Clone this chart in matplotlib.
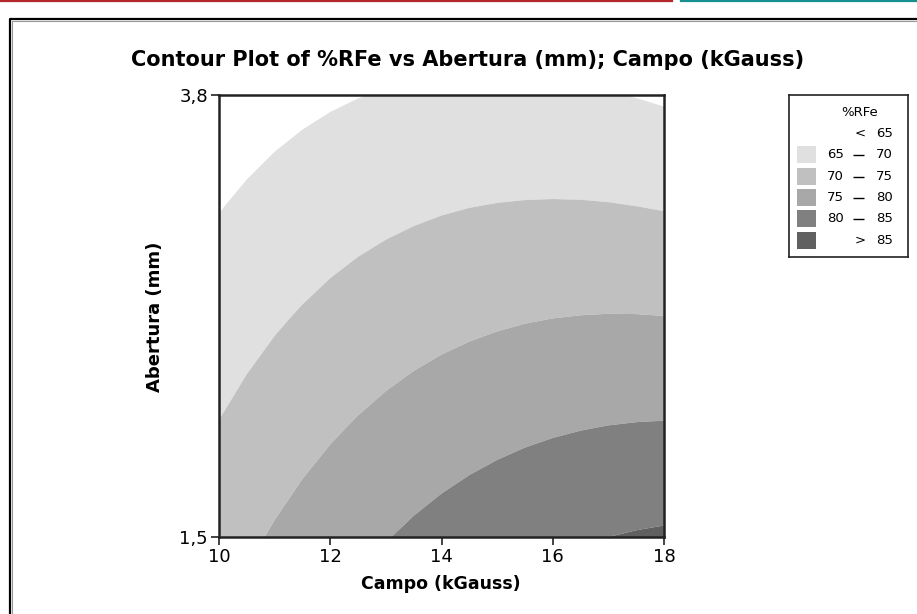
import matplotlib
matplotlib.use("Agg")
import matplotlib.pyplot as plt
from matplotlib.patches import Rectangle
from matplotlib.lines import Line2D
import numpy as np

# ---- data ----
campo = [10, 10.5, 11, 11.5, 12, 12.5, 13, 13.5, 14, 14.5, 15, 15.5, 16, 16.5, 17, 17.5, 18]  # kGauss
abertura = [1.5, 2.075, 2.65, 3.225, 3.8]  # mm
rfe_row_150 = [72.83, 74.18, 75.46, 76.66, 77.79, 78.84, 79.82, 80.73, 81.56,
               82.32, 83.00, 83.61, 84.15, 84.61, 85.00, 85.31, 85.55]
rfe_row_208 = [70.16, 71.34, 72.46, 73.50, 74.46, 75.35, 76.17, 76.92, 77.59,
               78.18, 78.70, 79.15, 79.52, 79.82, 80.05, 80.20, 80.28]
rfe_row_265 = [67.48, 68.51, 69.46, 70.33, 71.14, 71.87, 72.52, 73.10, 73.61,
               74.04, 74.40, 74.69, 74.90, 75.03, 75.10, 75.09, 75.00]
rfe_row_323 = [64.81, 65.67, 66.46, 67.17, 67.81, 68.38, 68.87, 69.29, 69.64,
               69.91, 70.10, 70.22, 70.27, 70.25, 70.15, 69.97, 69.73]
rfe_row_380 = [62.13, 62.83, 63.46, 64.01, 64.49, 64.89, 65.22, 65.48, 65.66,
               65.77, 65.80, 65.76, 65.65, 65.46, 65.20, 64.86, 64.45]
contour_levels = [65, 70, 75, 80, 85]
x_ticks = [10, 12, 14, 16, 18]
y_ticks = [1.5, 3.8]
y_tick_labels = ["1,5", "3,8"]
legend_left = ["", "65", "70", "75", "80", ""]
legend_mid = ["<", "–", "–", "–", "–", ">"]
legend_right = ["65", "70", "75", "80", "85", "85"]

band_colors = ["#ffffff", "#e0e0e0", "#c0c0c0", "#a8a8a8", "#808080", "#606060"]

W, H = 917, 614
fig = plt.figure(figsize=(W / 100, H / 100), dpi=100)
plt.rcParams['font.family'] = ['DejaVu Sans']

def fx(px):
    return px / W

def fy(py):
    return 1 - py / H

# page decorations
fig.add_artist(Line2D([0, fx(672)], [fy(0.8), fy(0.8)], color="#b3262d", lw=1.6))
fig.add_artist(Line2D([fx(681), 1], [fy(0.8), fy(0.8)], color="#15918f", lw=1.6))
fig.add_artist(Line2D([fx(9.5), fx(9.5), 1], [0, fy(18.5), fy(18.5)], color="black", lw=1.6))
fig.add_artist(Line2D([fx(11.5), fx(11.5), 1], [0, fy(20.5), fy(20.5)], color="#999999", lw=0.8))

ax = fig.add_axes([fx(219), fy(537), (664 - 219) / W, (537 - 95) / H])
Z = np.array([rfe_row_150, rfe_row_208, rfe_row_265, rfe_row_323, rfe_row_380])
lv = [Z.min() - 1] + contour_levels + [Z.max() + 1]
ax.contourf(campo, abertura, Z, levels=lv, colors=band_colors, antialiased=True)
ax.set_xlim(10, 18)
ax.set_ylim(1.5, 3.8)
ax.set_xticks(x_ticks)
ax.set_xticklabels([str(v) for v in x_ticks])
ax.set_yticks(y_ticks)
ax.set_yticklabels(y_tick_labels)
ax.tick_params(direction="out", length=6, width=1.2, labelsize=13, color="#222222", pad=2)
for s in ax.spines.values():
    s.set_linewidth(1.8)
    s.set_color("#222222")

fig.text(fx(468), fy(60), "Contour Plot of %RFe vs Abertura (mm); Campo (kGauss)",
         ha="center", va="center", fontsize=15, fontweight="bold")
fig.text(fx(441), fy(584), "Campo (kGauss)", ha="center", va="center",
         fontsize=12.5, fontweight="bold")
fig.text(fx(155), fy(317), "Abertura (mm)", ha="center", va="center",
         fontsize=13, fontweight="bold", rotation=90)

# legend box
lx0, ly0, lx1, ly1 = 789, 95, 908, 257
lax = fig.add_axes([fx(lx0), fy(ly1), (lx1 - lx0) / W, (ly1 - ly0) / H])
lax.set_xlim(0, lx1 - lx0)
lax.set_ylim(ly1 - ly0, 0)
lax.set_xticks([])
lax.set_yticks([])
for s in lax.spines.values():
    s.set_linewidth(1.2)
    s.set_color("#222222")
lax.text(71, 17.5, "%RFe", ha="center", va="center", fontsize=9.5)
for k in range(6):
    yc = 38.5 + 21.3 * k
    if k > 0:
        lax.add_patch(Rectangle((8, yc - 8.5), 19, 17, facecolor=band_colors[k], edgecolor="none"))
    if legend_left[k]:
        lax.text(54.5, yc, legend_left[k], ha="right", va="center", fontsize=9.5)
        # the "–" separator, drawn as a short rule
        lax.plot([64, 74.5], [yc + 0.5, yc + 0.5], color="black", lw=1.0,
                 solid_capstyle="butt")
    else:
        lax.text(71, yc, legend_mid[k], ha="center", va="center", fontsize=9.5)
    lax.text(104, yc, legend_right[k], ha="right", va="center", fontsize=9.5)

fig.savefig("out.png", dpi=100)
